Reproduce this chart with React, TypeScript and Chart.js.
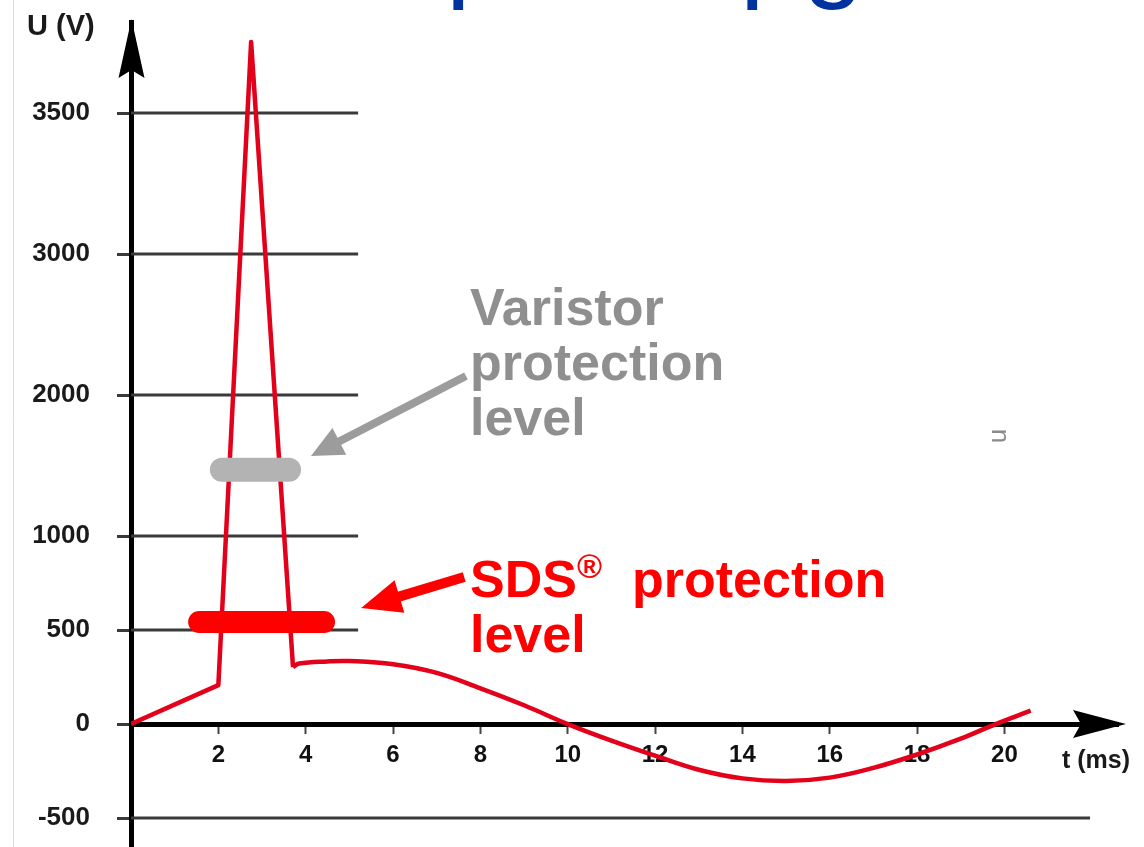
import React, { useEffect, useRef } from 'react';
import { Chart, registerables, LinearScale } from 'chart.js';

// ---- axis definitions ----
const timeTicks = [2, 4, 6, 8, 10, 12, 14, 16, 18, 20];
const voltageTicks = [3500, 3000, 2000, 1000, 500, 0, -500];
// the schematic voltage axis is irregular: tick value -> relative axis position
const axisBreakValues = [-500, 0, 500, 1000, 2000, 3000, 3500];
const axisBreakPositions = [-1, 0, 1, 2, 3.5, 5, 6.5];

// ---- surge (spike) part of the waveform ----
const surgeTime = [0, 2, 2.75, 3.71];
const surgeVoltage = [0, 207, 3752, 303];

// ---- mains sine part of the waveform ----
const mainsTime = [3.71, 3.85, 4.5, 5, 6, 7, 8, 9, 10, 11, 12, 13, 14, 15, 16, 17, 18, 19, 19.8, 20.6];
const mainsVoltage = [303, 322, 333, 335, 318, 272, 190, 100, 0, -88, -168, -243, -289, -303, -285, -233, -162, -78, 0, 71];

// ---- protection levels ----
const sdsLevel = [543, 543];
const sdsTime = [1.56, 4.42];
const varistorLevel = [1471, 1471];
const varistorTime = [2.08, 3.62];

// ---- reference lines ----
const shortGridLevels = [3500, 3000, 2000, 1000, 500];
const longGridLevels = [-500];

const FONT = 'Liberation Sans, Arial, Helvetica, sans-serif';

function toPos(v: number): number {
  const V = axisBreakValues, P = axisBreakPositions, n = V.length;
  let i = 0;
  if (v <= V[0]) i = 0;
  else if (v >= V[n - 1]) i = n - 2;
  else { while (i < n - 2 && v > V[i + 1]) i++; }
  return P[i] + ((v - V[i]) * (P[i + 1] - P[i])) / (V[i + 1] - V[i]);
}
function fromPos(p: number): number {
  const V = axisBreakValues, P = axisBreakPositions, n = P.length;
  let i = 0;
  if (p <= P[0]) i = 0;
  else if (p >= P[n - 1]) i = n - 2;
  else { while (i < n - 2 && p > P[i + 1]) i++; }
  return V[i] + ((p - P[i]) * (V[i + 1] - V[i])) / (P[i + 1] - P[i]);
}

class PiecewiseScale extends LinearScale {
  static id = 'piecewise';
  static defaults = LinearScale.defaults;
  getPixelForValue(value: any) {
    if (value === null || value === undefined || isNaN(value)) return NaN;
    const p0 = toPos(this.min), p1 = toPos(this.max);
    return this.getPixelForDecimal((toPos(+value) - p0) / (p1 - p0));
  }
  getValueForPixel(pixel: number) {
    const p0 = toPos(this.min), p1 = toPos(this.max);
    return fromPos(p0 + this.getDecimalForPixel(pixel) * (p1 - p0));
  }
}

Chart.register(...registerables, PiecewiseScale as any);

function drawArrow(ctx: CanvasRenderingContext2D, x1: number, y1: number, x2: number, y2: number,
  color: string, lw: number, hl: number, hw: number) {
  const dx = x2 - x1, dy = y2 - y1, len = Math.hypot(dx, dy);
  const ux = dx / len, uy = dy / len;
  const bx = x2 - ux * hl, by = y2 - uy * hl;
  ctx.save();
  ctx.strokeStyle = color; ctx.fillStyle = color; ctx.lineWidth = lw; ctx.lineCap = 'butt';
  ctx.beginPath(); ctx.moveTo(x1, y1); ctx.lineTo(bx + ux * 3, by + uy * 3); ctx.stroke();
  ctx.beginPath();
  ctx.moveTo(x2, y2);
  ctx.lineTo(bx - uy * hw, by + ux * hw);
  ctx.lineTo(bx + uy * hw, by - ux * hw);
  ctx.closePath(); ctx.fill();
  ctx.restore();
}

const decorPlugin = {
  id: 'decor',
  afterDatasetsDraw(chart: any) {
    const { ctx, scales: { x, y } } = chart;
    // varistor arrow
    drawArrow(ctx, x.getPixelForValue(7.67), y.getPixelForValue(2135), x.getPixelForValue(4.12), y.getPixelForValue(1567), '#9c9c9c', 8, 32, 15);
    // SDS arrow
    drawArrow(ctx, x.getPixelForValue(7.63), y.getPixelForValue(782), x.getPixelForValue(5.27), y.getPixelForValue(617), '#ff0000', 10, 40, 17);
  },
  afterDraw(chart: any) {
    const { ctx, chartArea: ca, scales: { x, y } } = chart;
    ctx.save();
    // faint slide edge
    ctx.strokeStyle = '#dcdcdc'; ctx.lineWidth = 1;
    ctx.beginPath(); ctx.moveTo(13.5, 0); ctx.lineTo(13.5, 847); ctx.stroke();

    // axis arrowheads
    const cx = x.getPixelForValue(0) + 0.5;
    const top = ca.top;
    ctx.fillStyle = '#000';
    ctx.beginPath();
    ctx.moveTo(cx, top - 3);
    ctx.lineTo(cx - 13, top + 56);
    ctx.lineTo(cx, top + 48);
    ctx.lineTo(cx + 13, top + 56);
    ctx.closePath(); ctx.fill();
    const cy = y.getPixelForValue(0);
    const right = ca.right;
    ctx.beginPath();
    ctx.moveTo(right + 8, cy);
    ctx.lineTo(right - 45, cy - 14);
    ctx.lineTo(right - 37, cy);
    ctx.lineTo(right - 45, cy + 14);
    ctx.closePath(); ctx.fill();

    // axis titles
    ctx.fillStyle = '#1a1a1a';
    ctx.textBaseline = 'alphabetic'; ctx.textAlign = 'left';
    ctx.font = `bold 29px ${FONT}`;
    ctx.fillText('U (V)', 27, 35);
    ctx.font = `bold 25px ${FONT}`;
    ctx.fillText('t (ms)', 1062, 768);

    // varistor text
    ctx.fillStyle = '#8f8f8f';
    ctx.font = `bold 52px ${FONT}`;
    ctx.fillText('Varistor', 470, 325);
    ctx.fillText('protection', 470, 380);
    ctx.fillText('level', 470, 435);

    // SDS text
    ctx.fillStyle = '#ff0000';
    ctx.fillText('SDS', 470, 597);
    ctx.fillText('protection', 632, 597);
    ctx.fillText('level', 470, 652);
    ctx.font = `bold 34px ${FONT}`;
    ctx.fillText('®', 577, 578);

    // cropped slide title descenders
    ctx.fillStyle = '#0033a0';
    ctx.font = `110px ${FONT}`;
    ctx.fillText('p', 446, -13);
    ctx.fillText('p', 740, -13);
    ctx.fillText('g', 803, -13);

    // small stray glyph
    ctx.save();
    ctx.translate(999, 436);
    ctx.rotate(-Math.PI / 2);
    ctx.fillStyle = '#8a8a8a';
    ctx.font = `26px ${FONT}`;
    ctx.textAlign = 'center'; ctx.textBaseline = 'middle';
    ctx.fillText('u', 0, 0);
    ctx.restore();

    ctx.restore();
  },
};

const pts = (xs: number[], ys: number[]) => xs.map((t, i) => ({ x: t, y: ys[i] }));

export default function App() {
  const ref = useRef<HTMLCanvasElement>(null);
  useEffect(() => {
    const gridSets = [
      ...shortGridLevels.map((lv) => ({
        type: 'line', data: pts([0, 5.2], [lv, lv]), borderColor: '#3a3a3a', borderWidth: 3,
        pointRadius: 0, tension: 0, order: 5,
      })),
      ...longGridLevels.map((lv) => ({
        type: 'line', data: pts([0, 21.96], [lv, lv]), borderColor: '#3a3a3a', borderWidth: 3,
        pointRadius: 0, tension: 0, order: 5,
      })),
    ];
    const chart = new Chart(ref.current as HTMLCanvasElement, {
      type: 'line',
      data: {
        datasets: [
          {
            label: 'SDS protection level', data: pts(sdsTime, sdsLevel), borderColor: '#ff0000',
            borderWidth: 22, borderCapStyle: 'round', pointRadius: 0, order: 0,
          },
          {
            label: 'Varistor protection level', data: pts(varistorTime, varistorLevel), borderColor: '#b3b3b3',
            borderWidth: 24, borderCapStyle: 'round', pointRadius: 0, order: 0,
          },
          {
            label: 'surge', data: pts(surgeTime, surgeVoltage), borderColor: '#e2001a', borderWidth: 4.5,
            borderJoinStyle: 'round', pointRadius: 0, tension: 0, order: 2,
          },
          {
            label: 'mains', data: pts(mainsTime, mainsVoltage), borderColor: '#e2001a', borderWidth: 4.5,
            borderJoinStyle: 'round', pointRadius: 0, tension: 0.4, order: 2,
          },
          ...gridSets,
        ] as any,
      },
      options: {
        responsive: false,
        animation: false,
        events: [],
        layout: { padding: { left: 0, top: 22, right: 26, bottom: 0 } },
        plugins: { legend: { display: false }, tooltip: { enabled: false }, title: { display: false } },
        scales: {
          x: {
            type: 'linear',
            position: { y: 0 } as any,
            min: 0,
            max: 22.6,
            bounds: 'data',
            afterBuildTicks: (s: any) => { s.ticks = timeTicks.map((v) => ({ value: v })); },
            afterFit: (s: any) => { s.paddingLeft = 0; s.paddingRight = 0; },
            ticks: {
              autoSkip: false, maxRotation: 0, minRotation: 0, padding: 10, color: '#111',
              font: { family: FONT, size: 24, weight: 'bold' }, callback: (v: any) => String(v),
            },
            grid: { drawOnChartArea: false, drawTicks: true, tickLength: 7, tickWidth: 2, tickColor: '#444' },
            border: { display: true, color: '#000', width: 5 },
          },
          y: {
            type: 'piecewise' as any,
            position: 'left',
            min: -654,
            max: 3823,
            bounds: 'data',
            afterBuildTicks: (s: any) => { s.ticks = voltageTicks.map((v) => ({ value: v })); },
            afterFit: (s: any) => { s.width = 131; s.paddingTop = 0; s.paddingBottom = 0; },
            ticks: {
              autoSkip: false, padding: 27, color: '#1a1a1a',
              font: { family: FONT, size: 26, weight: 'bold' }, callback: (v: any) => String(v),
            },
            grid: { drawOnChartArea: false, drawTicks: true, tickLength: 14, tickWidth: 3, tickColor: '#3a3a3a' },
            border: { display: true, color: '#000', width: 5 },
          },
        },
      } as any,
      plugins: [decorPlugin],
    });
    return () => chart.destroy();
  }, []);
  return (
    <div style={{ position: 'absolute', left: 0, top: 0, width: 1144, height: 847, background: '#fff', overflow: 'hidden' }}>
      <canvas ref={ref} width={1144} height={847} style={{ display: 'block' }} />
    </div>
  );
}
